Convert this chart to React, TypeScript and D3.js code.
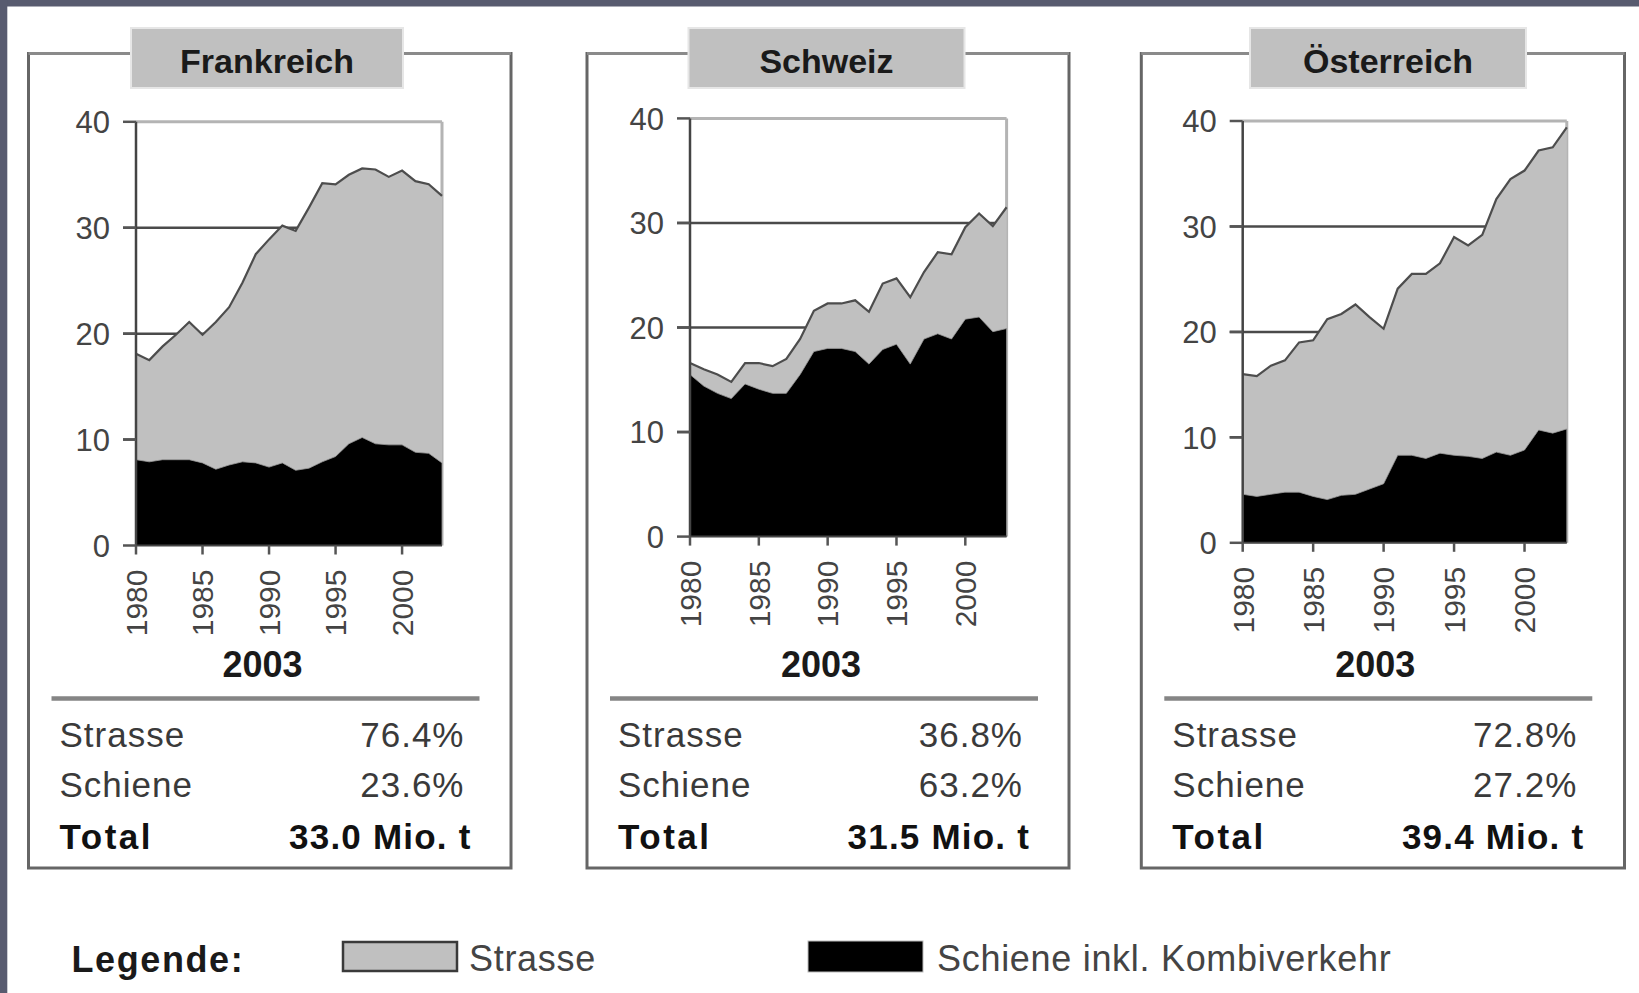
import React, { useEffect } from "react";
import * as d3 from "d3";

// ---------- data ----------
const YEARS = [1980, 1981, 1982, 1983, 1984, 1985, 1986, 1987, 1988, 1989, 1990, 1991,
  1992, 1993, 1994, 1995, 1996, 1997, 1998, 1999, 2000, 2001, 2002, 2003];

const COUNTRIES = ["Frankreich", "Schweiz", "Österreich"];

// total (Strasse + Schiene), Mio. t
const TOTAL_FR = [18.1, 17.5, 18.8, 19.9, 21.1, 19.9, 21.1, 22.5, 24.8, 27.5, 28.9, 30.2,
  29.7, 31.9, 34.2, 34.1, 35.0, 35.6, 35.5, 34.8, 35.4, 34.4, 34.1, 33.0];
const RAIL_FR = [8.1, 7.9, 8.1, 8.1, 8.1, 7.8, 7.2, 7.6, 7.9, 7.8, 7.4, 7.8,
  7.1, 7.3, 7.9, 8.4, 9.6, 10.2, 9.6, 9.5, 9.5, 8.8, 8.7, 7.8];

const TOTAL_CH = [16.6, 16.0, 15.5, 14.8, 16.6, 16.6, 16.3, 17.0, 18.9, 21.6, 22.3, 22.3,
  22.6, 21.5, 24.2, 24.7, 22.9, 25.3, 27.2, 27.0, 29.6, 30.9, 29.7, 31.5];
const RAIL_CH = [15.5, 14.4, 13.7, 13.2, 14.6, 14.1, 13.7, 13.7, 15.5, 17.7, 18.0, 18.0,
  17.7, 16.5, 17.9, 18.4, 16.5, 18.9, 19.4, 18.9, 20.8, 21.0, 19.6, 19.9];

const TOTAL_AT = [16.0, 15.8, 16.8, 17.3, 19.0, 19.2, 21.2, 21.7, 22.6, 21.4, 20.3, 24.1,
  25.5, 25.5, 26.5, 29.0, 28.2, 29.2, 32.6, 34.5, 35.3, 37.2, 37.5, 39.4];
const RAIL_AT = [4.6, 4.4, 4.6, 4.8, 4.8, 4.4, 4.1, 4.5, 4.6, 5.1, 5.6, 8.3,
  8.3, 8.0, 8.5, 8.3, 8.2, 8.0, 8.6, 8.3, 8.8, 10.7, 10.4, 10.8];

const TOTALS = [TOTAL_FR, TOTAL_CH, TOTAL_AT];
const RAILS = [RAIL_FR, RAIL_CH, RAIL_AT];

const SHARE_ROAD = ["76.4%", "36.8%", "72.8%"];
const SHARE_RAIL = ["23.6%", "63.2%", "27.2%"];
const TOTAL_2003 = ["33.0 Mio. t", "31.5 Mio. t", "39.4 Mio. t"];
const YEAR_LABEL = "2003";

const Y_TICKS = [0, 10, 20, 30, 40];
const X_TICKS = [1980, 1985, 1990, 1995, 2000];

// ---------- layout ----------
const W = 1639;
const H = 993;
const PANELS = [
  { left: 28.5, right: 511, titleL: 131, titleR: 403, px0: 136, px1: 442, py0: 545.5, pyTop: 121.8 },
  { left: 587, right: 1069, titleL: 688.5, titleR: 964.5, px0: 690, px1: 1006.6, py0: 536.6, pyTop: 118.4 },
  { left: 1141.3, right: 1624.5, titleL: 1250, titleR: 1526, px0: 1242.7, px1: 1566.8, py0: 542.8, pyTop: 121 },
];
const PANEL_TOP = 53.5;
const PANEL_BOTTOM = 868;
const FONT = "'Liberation Sans', Arial, Helvetica, sans-serif";

function Panel({ i }: { i: number }) {
  const p = PANELS[i];
  const total = TOTALS[i];
  const rail = RAILS[i];
  const x = d3.scaleLinear().domain([YEARS[0], YEARS[YEARS.length - 1]]).range([p.px0, p.px1]);
  const y = d3.scaleLinear().domain([0, 40]).range([p.py0, p.pyTop]);

  const roadArea = d3.area<number>()
    .x((_, k) => x(YEARS[k]))
    .y0(y(0))
    .y1((d) => y(d))(total) as string;
  const railArea = d3.area<number>()
    .x((_, k) => x(YEARS[k]))
    .y0(y(0))
    .y1((d) => y(d))(rail) as string;
  const totalLine = d3.line<number>()
    .x((_, k) => x(YEARS[k]))
    .y((d) => y(d))(total) as string;

  const titleCx = (p.titleL + p.titleR) / 2;
  const cx = p.left + 234;

  return (
    <g>
      {/* panel frame */}
      <rect x={p.left} y={PANEL_TOP} width={p.right - p.left} height={PANEL_BOTTOM - PANEL_TOP}
        fill="#fff" stroke="#666" strokeWidth={3} />
      <line x1={p.left} x2={p.right} y1={PANEL_TOP} y2={PANEL_TOP} stroke="#8a8a8a" strokeWidth={3} />
      {/* title box */}
      <rect x={p.titleL} y={28} width={p.titleR - p.titleL} height={60} fill="#c0c0c0"
        stroke="#e6e6e6" strokeWidth={2} />
      <text x={titleCx} y={73} textAnchor="middle" fontFamily={FONT} fontWeight="bold"
        fontSize={34} fill="#1a1a1a">{COUNTRIES[i]}</text>

      {/* gridlines */}
      {Y_TICKS.filter((t) => t > 0 && t < 40).map((t) => (
        <line key={"g" + t} x1={p.px0 - 13} x2={p.px1} y1={y(t)} y2={y(t)} stroke="#4a4a4a" strokeWidth={2.5} />
      ))}
      {/* top and right plot frame */}
      <line x1={p.px0} x2={p.px1} y1={y(40)} y2={y(40)} stroke="#b4b4b4" strokeWidth={3} />
      <line x1={p.px1} x2={p.px1} y1={y(40)} y2={y(0)} stroke="#b4b4b4" strokeWidth={3} />

      {/* areas */}
      <path d={roadArea} fill="#c0c0c0" />
      <path d={railArea} fill="#000" stroke="#9a9a9a" strokeWidth={0.8} />
      <path d={totalLine} fill="none" stroke="#4d4d4d" strokeWidth={2.2} strokeLinejoin="miter" />

      {/* y axis */}
      <line x1={p.px0} x2={p.px0} y1={y(40)} y2={y(0)} stroke="#444" strokeWidth={2.5} />
      <line x1={p.px0} x2={p.px1} y1={y(0)} y2={y(0)} stroke="#444" strokeWidth={2} />
      {Y_TICKS.map((t) => (
        <g key={"y" + t}>
          <line x1={p.px0 - 13} x2={p.px0} y1={y(t)} y2={y(t)} stroke="#555" strokeWidth={2.5} />
          <text x={p.px0 - 26} y={y(t)} dy="0.36em" textAnchor="end" fontFamily={FONT}
            fontSize={31} fill="#444">{t}</text>
        </g>
      ))}
      {/* x axis */}
      {X_TICKS.map((t) => (
        <g key={"x" + t}>
          <line x1={x(t)} x2={x(t)} y1={y(0)} y2={y(0) + 9} stroke="#555" strokeWidth={2.5} />
          <text transform={`translate(${x(t)},${y(0) + 24}) rotate(-90)`} dy="0.36em" textAnchor="end"
            fontFamily={FONT} fontSize={30} fill="#444">{t}</text>
        </g>
      ))}

      {/* year label */}
      <text x={cx} y={677} textAnchor="middle" fontFamily={FONT} fontWeight="bold" fontSize={36}
        fill="#1a1a1a">{YEAR_LABEL}</text>
      <line x1={p.left + 23} x2={p.left + 451} y1={698.5} y2={698.5} stroke="#858585" strokeWidth={4.5} />

      {/* table */}
      <text x={p.left + 31} y={747} fontFamily={FONT} fontSize={35} fill="#3a3a3a" letterSpacing={1}>Strasse</text>
      <text x={p.left + 436} y={747} textAnchor="end" fontFamily={FONT} fontSize={35} fill="#3a3a3a" letterSpacing={1}>{SHARE_ROAD[i]}</text>
      <text x={p.left + 31} y={797} fontFamily={FONT} fontSize={35} fill="#3a3a3a" letterSpacing={1}>Schiene</text>
      <text x={p.left + 436} y={797} textAnchor="end" fontFamily={FONT} fontSize={35} fill="#3a3a3a" letterSpacing={1}>{SHARE_RAIL[i]}</text>
      <text x={p.left + 31} y={849} fontFamily={FONT} fontWeight="bold" fontSize={35} fill="#111" letterSpacing={2.5}>Total</text>
      <text x={p.left + 443} y={849} textAnchor="end" fontFamily={FONT} fontWeight="bold" fontSize={35} fill="#111" letterSpacing={1.2}>{TOTAL_2003[i]}</text>
    </g>
  );
}

export default function App() {
  useEffect(() => {
    document.body.style.margin = "0";
    document.body.style.overflow = "hidden";
  }, []);
  return (
    <svg width={W} height={H} style={{ position: "fixed", left: 0, top: 0, display: "block" }}>
      <rect x={0} y={0} width={W} height={H} fill="#fff" />
      <rect x={0} y={0} width={W} height={6.5} fill="#585b6f" />
      <rect x={0} y={0} width={7.3} height={H} fill="#585b6f" />
      {COUNTRIES.map((_, i) => <Panel key={i} i={i} />)}

      {/* legend */}
      <text x={71.5} y={972} fontFamily={FONT} fontWeight="bold" fontSize={36} fill="#1a1a1a" letterSpacing={1.6}>Legende:</text>
      <rect x={343} y={942} width={114} height={29} fill="#c0c0c0" stroke="#3a3a3a" strokeWidth={2.5} />
      <text x={469} y={971} fontFamily={FONT} fontSize={36} fill="#444" letterSpacing={0.7}>Strasse</text>
      <rect x={808} y={941} width={115} height={31} fill="#000" stroke="#bbb" strokeWidth={1} />
      <text x={937} y={971} fontFamily={FONT} fontSize={36} fill="#444" letterSpacing={0.7}>Schiene inkl. Kombiverkehr</text>
    </svg>
  );
}
